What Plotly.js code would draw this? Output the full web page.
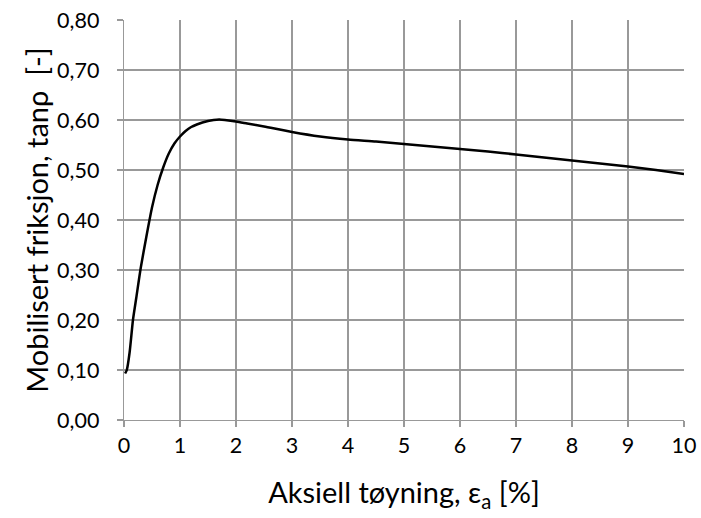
<!DOCTYPE html>
<html>
<head>
<meta charset="utf-8">
<script src="https://cdn.plot.ly/plotly-3.0.1.min.js"></script>
<style>html,body{margin:0;padding:0;background:#fff;}#chart{width:701px;height:518px;}</style>
</head>
<body>
<div id="chart"></div>
<script>
const strain = [0.02, 0.05, 0.10, 0.16, 0.22, 0.30, 0.40, 0.50, 0.60, 0.70, 0.80, 0.90, 1.00, 1.10, 1.20, 1.30, 1.40, 1.50, 1.60, 1.70, 1.80, 2.00, 2.20, 2.50, 3.00, 3.50, 4.00, 4.50, 5.00, 5.50, 6.00, 6.50, 7.00, 7.50, 8.00, 8.50, 9.00, 9.50, 10.00];
const friction = [0.093, 0.100, 0.135, 0.200, 0.245, 0.305, 0.367, 0.425, 0.470, 0.505, 0.533, 0.553, 0.567, 0.578, 0.586, 0.591, 0.595, 0.598, 0.600, 0.601, 0.600, 0.597, 0.593, 0.587, 0.576, 0.567, 0.561, 0.557, 0.552, 0.547, 0.542, 0.537, 0.531, 0.525, 0.519, 0.513, 0.507, 0.500, 0.492];
const xTicks = [0,1,2,3,4,5,6,7,8,9,10];
const yTicks = [0,0.1,0.2,0.3,0.4,0.5,0.6,0.7,0.8];

const font = "Lato, 'Open Sans', sans-serif";
Plotly.newPlot('chart', [{
  x: strain, y: friction, type: 'scatter', mode: 'lines',
  line: {color: '#000', width: 2.5, shape: 'spline', smoothing: 0.6},
  hoverinfo: 'skip'
}], {
  width: 701, height: 518,
  margin: {l: 124.3, r: 16.7, t: 20, b: 98},
  paper_bgcolor: '#fff', plot_bgcolor: '#fff',
  separators: ', ',
  showlegend: false,
  font: {family: font, color: '#000', size: 21},
  xaxis: {
    range: [0, 10], tickvals: xTicks, ticktext: xTicks.map(String),
    showgrid: true, gridcolor: '#999', gridwidth: 1.3,
    showline: true, linecolor: '#999', linewidth: 1.3, mirror: false,
    ticks: 'outside', ticklen: 6, tickcolor: '#999', tickwidth: 1.3,
    zeroline: false, fixedrange: true,
    tickfont: {size: 21.5, family: font},
    title: {text: 'Aksiell tøyning, ε<sub>a</sub> [%]', font: {size: 29, family: font}, standoff: 25}
  },
  yaxis: {
    range: [0, 0.8], tickvals: yTicks, ticktext: yTicks.map(v => v.toFixed(2).replace('.', ',')),
    showgrid: true, gridcolor: '#999', gridwidth: 1.3,
    showline: true, linecolor: '#999', linewidth: 1.3,
    ticks: 'outside', ticklen: 6, tickcolor: '#999', tickwidth: 1.3,
    ticklabelstandoff: 13,
    zeroline: false, fixedrange: true,
    tickfont: {size: 21.5, family: font},
    title: {text: 'Mobilisert friksjon, tanρ  [-]', font: {size: 29, family: font}, standoff: 0}
  }
}, {displayModeBar: false, staticPlot: true});
</script>
</body>
</html>
